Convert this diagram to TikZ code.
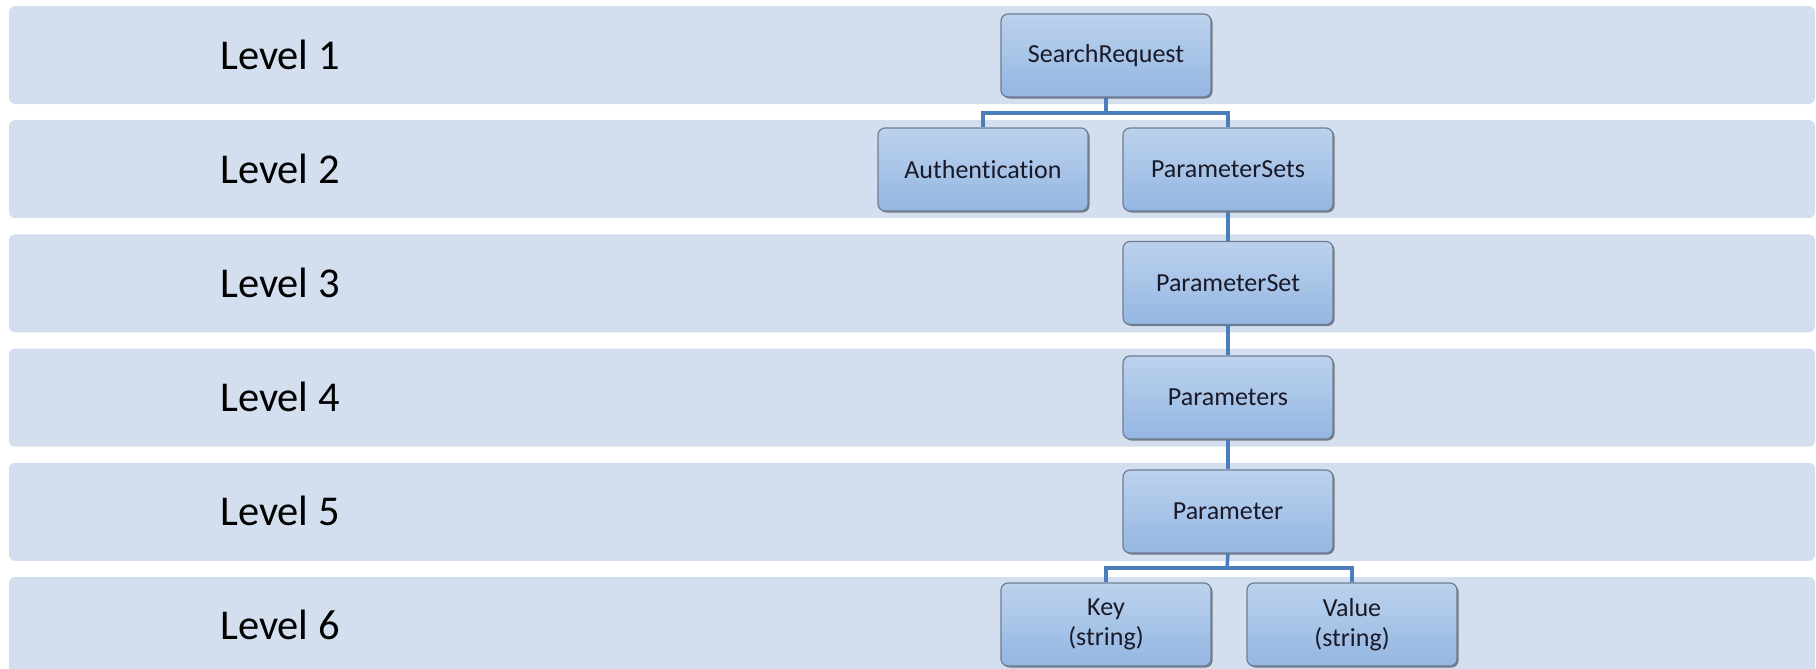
\documentclass[tikz,border=0pt]{standalone}
\usepackage{fontspec}
\setmainfont{Carlito}[Ligatures=NoCommon]
\usetikzlibrary{shadows}
\definecolor{bandcol}{RGB}{211,222,238}
\definecolor{boxtop}{RGB}{188,210,237}
\definecolor{boxbot}{RGB}{148,182,226}
\definecolor{boxline}{RGB}{110,125,148}
\definecolor{conncol}{RGB}{74,126,187}
\definecolor{txtcol}{RGB}{25,25,40}
\begin{document}
\begin{tikzpicture}[x=1pt,y=-1pt,
  band/.style={fill=bandcol, rounded corners=6pt},
  levellabel/.style={font=\fontsize{42.5}{48}\selectfont, text=black, anchor=center},
  elem/.style={draw=boxline, line width=1.2pt, rounded corners=7pt,
    top color=boxtop, bottom color=boxbot, minimum width=210pt, minimum height=83pt,
    inner sep=0pt, align=center, text=txtcol, font=\fontsize{26}{28}\selectfont,
    drop shadow={shadow xshift=1.5pt, shadow yshift=-1.5pt, opacity=0.45, fill=black}},
  conn/.style={draw=conncol, line width=3.5pt}]
\useasboundingbox (0,0) rectangle (1816,669);
\clip (0,0) rectangle (1816,669);
% bands
\foreach \i in {0,...,5}{
  \path[band] (9,{6+114.2*\i}) rectangle (1815,{104+114.2*\i});
}
\node[levellabel] (L1) at (280,55) {Level 1};
\node[levellabel] (L2) at (280,169) {Level 2};
\node[levellabel] (L3) at (280,283) {Level 3};
\node[levellabel] (L4) at (280,397) {Level 4};
\node[levellabel] (L5) at (280,511) {Level 5};
\node[levellabel] (L6) at (280,625) {Level 6};
\coordinate (j1) at (1106,113);
\coordinate (j5) at (1227,568);
% nodes
\node[elem] (SR) at (1106,55.5) {SearchRequest};
\node[elem] (Auth) at (983,169.5) {Authentication};
\node[elem] (PSets) at (1228,169.5) {ParameterSets};
\node[elem] (PSet) at (1228,283) {ParameterSet};
\node[elem] (Params) at (1228,397.5) {Parameters};
\node[elem] (Param) at (1228,511.5) {Parameter};
\node[elem] (Key) at (1106,624.5) {Key\\[1.5pt](string)};
\node[elem] (Val) at (1352,624.5) {Value\\[1.5pt](string)};
% connectors
\draw[conn] (SR.south) -- (j1);
\draw[conn] (j1) -| (Auth.north);
\draw[conn] (j1) -| (PSets.north);
\draw[conn] (PSets.south) -- (PSet.north);
\draw[conn] (PSet.south) -- (Params.north);
\draw[conn] (Params.south) -- (Param.north);
\draw[conn] (Param.south) -- (j5);
\draw[conn] (j5) -| (Key.north);
\draw[conn] (j5) -| (Val.north);
\end{tikzpicture}
\end{document}
